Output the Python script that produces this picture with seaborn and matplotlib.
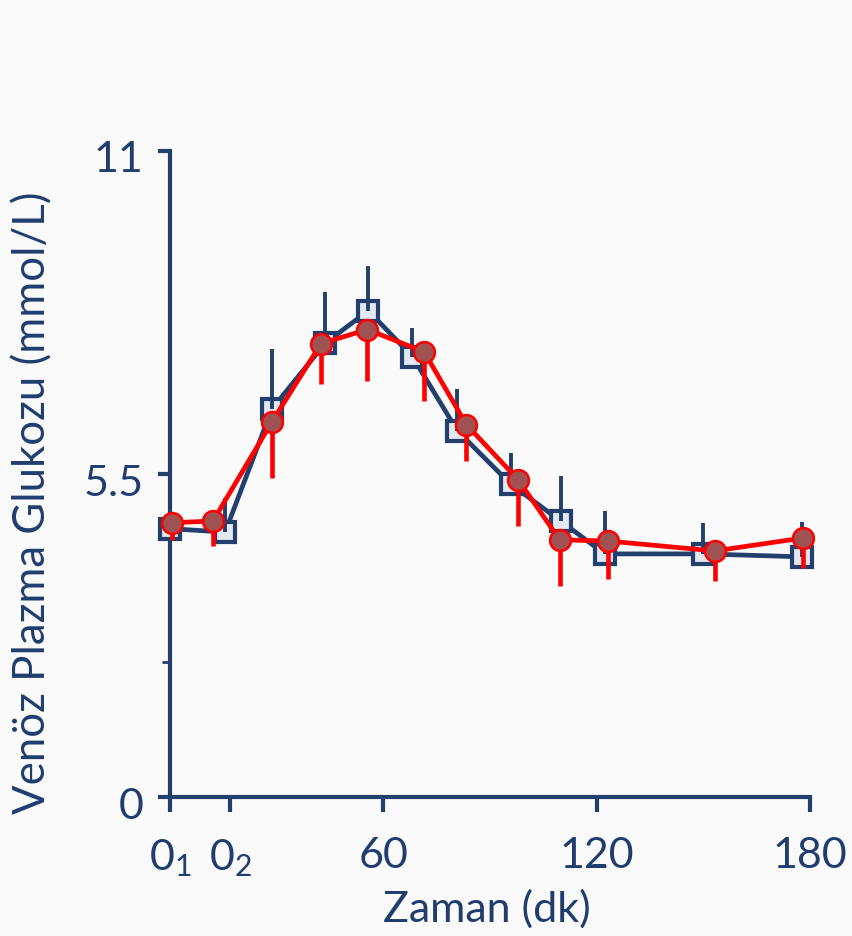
import matplotlib
matplotlib.use("Agg")
import matplotlib.pyplot as plt
import seaborn as sns
import pandas as pd
from matplotlib.ticker import FixedLocator
from matplotlib.transforms import ScaledTranslation

# --- data ---
blue_time = [0, 15.5, 28.7, 43.7, 55.8, 68.2, 80.8, 95.8, 109.9, 122.3, 149.9, 177.7]
blue_glu = [4.57, 4.51, 6.61, 7.73, 8.28, 7.50, 6.24, 5.33, 4.70, 4.14, 4.14, 4.09]
blue_err = [0.47, 0.58, 1.02, 0.87, 0.77, 0.49, 0.71, 0.53, 0.77, 0.73, 0.53, 0.59]

red_time = [0.6, 12.1, 28.7, 42.5, 55.5, 71.5, 83.4, 98.0, 109.6, 123.1, 153.2, 178.0]
red_glu = [4.67, 4.70, 6.39, 7.72, 7.96, 7.58, 6.34, 5.40, 4.38, 4.36, 4.19, 4.41]
red_err = [0.30, 0.42, 0.96, 0.68, 0.87, 0.83, 0.62, 0.78, 0.79, 0.65, 0.51, 0.51]

x_ticks = [0, 17, 60, 120, 180]
x_labels = ["0$_1$", "0$_2$", "60", "120", "180"]
y_ticks = [0, 5.5, 11]
y_labels = ["0", "5.5", "11"]
y_minor = [2.3]

NAVY = "#233f6e"
TXT = "#1f3d6e"
RED = "#ff0000"
BG = "#fafafa"
FONT = "Lato"

sns.set_style("white")
plt.rcParams['font.family'] = [FONT, 'DejaVu Sans']
plt.rcParams['mathtext.fontset'] = 'custom'
plt.rcParams['mathtext.rm'] = FONT
plt.rcParams['mathtext.it'] = FONT

fig = plt.figure(figsize=(8.52, 9.37), dpi=100, facecolor=BG)
ax = fig.add_axes([0.1995, 0.1483, 0.751, 0.6895])
ax.set_facecolor(BG)

df_b = pd.DataFrame({"t": blue_time, "g": blue_glu})
df_r = pd.DataFrame({"t": red_time, "g": red_glu})

sns.lineplot(data=df_b, x="t", y="g", ax=ax, color=NAVY, lw=3.4, marker="s",
             markersize=14, markerfacecolor="#e3e8f0", markeredgecolor=NAVY,
             markeredgewidth=3.0, clip_on=False, zorder=3, sort=False)
ax.errorbar(blue_time, blue_glu, yerr=[[0]*len(blue_err), blue_err], fmt="none",
            ecolor=NAVY, elinewidth=2.8, capsize=0, clip_on=False, zorder=4)

ax.errorbar(red_time, red_glu, yerr=[red_err, [0]*len(red_err)], fmt="none",
            ecolor=RED, elinewidth=3.3, capsize=0, clip_on=False, zorder=5)
sns.lineplot(data=df_r, x="t", y="g", ax=ax, color=RED, lw=3.4, marker="o",
             markersize=15, markerfacecolor="#a05252", markeredgecolor=RED,
             markeredgewidth=1.8, clip_on=False, zorder=6, sort=False)

ax.set_xlim(0, 180)
ax.set_ylim(0, 11)

for s in ["top", "right"]:
    ax.spines[s].set_visible(False)
for s in ["left", "bottom"]:
    ax.spines[s].set_color(NAVY)
    ax.spines[s].set_linewidth(3.0)

ax.set_xticks(x_ticks)
ax.set_xticklabels(x_labels)
ax.set_yticks(y_ticks)
ax.set_yticklabels(y_labels)
ax.yaxis.set_minor_locator(FixedLocator(y_minor))

ax.tick_params(axis="x", direction="out", length=11, width=3, color=NAVY,
               labelsize=31, labelcolor=TXT, pad=17, bottom=True)
ax.tick_params(axis="y", direction="out", length=9, width=3, color=NAVY,
               labelsize=31, labelcolor=TXT, pad=10, left=True)
ax.tick_params(axis="y", which="minor", direction="out", length=6, width=2,
               color=NAVY, left=True)
yt = ax.yaxis.get_major_ticks()
yt[0].tick1line.set_color("black")
yt[2].tick1line.set_color("black")

shift = ScaledTranslation(0, -0.05, fig.dpi_scale_trans)
for lab in ax.get_yticklabels():
    lab.set_transform(lab.get_transform() + shift)

ax.set_xlabel("Zaman (dk)", fontsize=31, color=TXT)
ax.set_ylabel("Venöz Plazma Glukozu (mmol/L)", fontsize=31.5, color=TXT)
ax.xaxis.set_label_coords(0.495, -0.142)
ax.yaxis.set_label_coords(-0.182, 0.457)

fig.savefig("out.png", dpi=100, facecolor=BG)
